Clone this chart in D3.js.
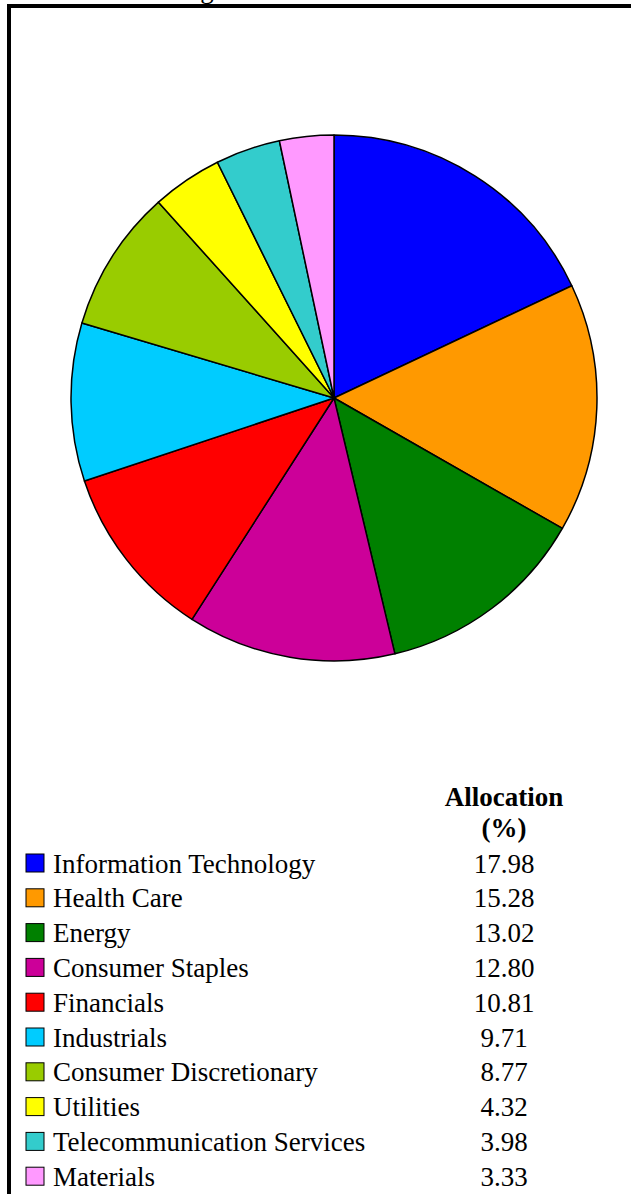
<!DOCTYPE html>
<meta charset="utf-8">
<style>
    body { margin: 0; background: #fff; }
    text { font-family: "Liberation Serif", "Times New Roman", serif; fill: #000; }
</style>
<svg width="631" height="1194"></svg>
<script src="https://d3js.org/d3.v7.min.js"></script>
<script>

    var sectors = ["Information Technology", "Health Care", "Energy", "Consumer Staples", "Financials",
        "Industrials", "Consumer Discretionary", "Utilities", "Telecommunication Services", "Materials"];
    var allocation = [17.98, 15.28, 13.02, 12.80, 10.81, 9.71, 8.77, 4.32, 3.98, 3.33];
    var colors = ["#0000FF", "#FF9900", "#008000", "#CC0099", "#FF0000",
        "#00CCFF", "#99CC00", "#FFFF00", "#33CCCC", "#FF99FF"];

    var svg = d3.select("svg");

    // title sits above the visible area, only its descender shows
    svg.append("text")
        .attr("x", 207).attr("y", -2)
        .attr("text-anchor", "middle")
        .style("font-size", "27px")
        .text("g");
    svg.append("path")
        .attr("d", "M9,1194 V6 H631")
        .attr("fill", "none")
        .attr("stroke", "#000")
        .attr("stroke-width", 4);

    var data = sectors.map(function (s, i) { return { name: s, value: allocation[i], color: colors[i] }; });

    var pie = d3.pie().sort(null).value(function (d) { return d.value; });
    var arc = d3.arc().innerRadius(0).outerRadius(263);

    var g = svg.append("g").attr("transform", "translate(334,398)");
    g.selectAll("path")
        .data(pie(data))
        .enter().append("path")
        .attr("d", arc)
        .attr("fill", function (d) { return d.data.color; })
        .attr("stroke", "#000")
        .attr("stroke-width", 1.5)
        .attr("stroke-linejoin", "round");

    // legend table
    var y = d3.scaleBand().domain(sectors).range([847, 1195]).paddingInner(0);

    svg.append("text")
        .attr("x", 504).attr("y", 806)
        .attr("text-anchor", "middle")
        .style("font-size", "27px").style("font-weight", "bold")
        .text("Allocation");
    svg.append("text")
        .attr("x", 504).attr("y", 837)
        .attr("text-anchor", "middle")
        .style("font-size", "27px").style("font-weight", "bold")
        .text("(%)");

    var row = svg.selectAll(".row")
        .data(data)
        .enter().append("g")
        .attr("class", "row")
        .attr("transform", function (d) { return "translate(0," + y(d.name) + ")"; });

    row.append("rect")
        .attr("x", 26).attr("y", 7)
        .attr("width", 18).attr("height", 18)
        .attr("fill", function (d) { return d.color; })
        .attr("stroke", "#000")
        .attr("stroke-width", 1);

    row.append("text")
        .attr("x", 53).attr("y", 25.5)
        .style("font-size", "27px")
        .text(function (d) { return d.name; });

    row.append("text")
        .attr("x", 504).attr("y", 25.5)
        .attr("text-anchor", "middle")
        .style("font-size", "27px")
        .text(function (d) { return d3.format(".2f")(d.value); });

</script>
